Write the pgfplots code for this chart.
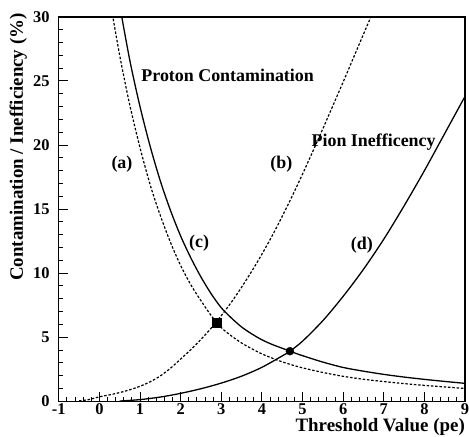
\documentclass[border=0pt]{standalone}
\usepackage{fontspec}
\setmainfont{Liberation Serif}
\usepackage{pgfplots}
\pgfplotsset{compat=1.18}
\begin{document}
\begin{tikzpicture}
\begin{axis}[
  scale only axis, width=408pt, height=386pt,
  xmin=-1, xmax=9, ymin=0, ymax=30,
  xtick={-1,0,...,9}, xticklabels={-1,0,1,2,3,4,5,6,7,8,9},
  ytick={0,5,...,30},
  minor x tick num=4, minor y tick num=4,
  xtick pos=bottom, ytick pos=left,
  tick align=inside,
  major tick length=9pt, minor tick length=4.5pt,
  axis line style={line width=1.5pt},
  every tick/.style={black, line width=1pt},
  /pgf/number format/assume math mode=true,
  tick label style={font=\fontsize{16.5}{19}\selectfont\bfseries},
  xticklabel style={inner sep=0pt, yshift=-2pt},
  yticklabel style={inner sep=0pt, xshift=-9pt},
  xlabel={Threshold Value (pe)},
  ylabel={Contamination / Inefficiency (\%)},
  label style={font=\fontsize{19}{22}\selectfont\bfseries},
  xlabel style={at={(axis description cs:1,0)}, anchor=north east, inner sep=0pt, yshift=-17pt},
  ylabel style={at={(axis description cs:-0.078,1.01)}, anchor=south east, inner sep=0pt},
]
% (c) proton contamination, solid
\addplot[black, line width=1.3pt, smooth] coordinates {(0.5,30.9) (0.75,26.6) (1.0,23.0) (1.25,19.9) (1.5,17.2) (1.75,14.9) (2.0,12.9) (2.25,11.2) (2.5,9.7) (2.75,8.4) (3.0,7.3) (3.25,6.5) (3.5,5.8) (3.75,5.26) (4.0,4.8) (4.25,4.44) (4.5,4.14) (4.75,3.84) (5.0,3.56) (5.5,3.06) (6.0,2.64) (6.5,2.35) (7.0,2.10) (7.5,1.89) (8.0,1.71) (8.5,1.55) (9.0,1.40)};
% (a) proton contamination, dashed
\addplot[black, line width=1.2pt, dash pattern=on 2.5pt off 1.8pt, smooth] coordinates {(0.25,31.5) (0.5,27.0) (0.75,23.1) (1.0,19.8) (1.25,16.9) (1.5,14.5) (1.75,12.4) (2.0,10.6) (2.25,9.1) (2.5,7.85) (2.75,6.7) (3.0,5.75) (3.25,5.1) (3.5,4.55) (3.75,4.1) (4.0,3.7) (4.25,3.37) (4.5,3.08) (4.75,2.83) (5.0,2.61) (5.5,2.25) (6.0,1.95) (6.5,1.72) (7.0,1.54) (7.5,1.38) (8.0,1.24) (8.5,1.12) (9.0,1.0)};
% (b) pion inefficiency, dashed
\addplot[black, line width=1.2pt, dash pattern=on 2.5pt off 1.8pt, smooth] coordinates {(-0.5,0.03) (-0.25,0.14) (0,0.35) (0.25,0.5) (0.5,0.68) (0.75,0.9) (1.0,1.17) (1.25,1.52) (1.5,1.98) (1.75,2.58) (2.0,3.3) (2.25,4.03) (2.5,4.83) (2.75,5.7) (3.0,6.68) (3.25,7.74) (3.5,8.9) (3.75,10.15) (4.0,11.48) (4.25,12.9) (4.5,14.43) (4.75,16.04) (5.0,17.73) (5.25,19.48) (5.5,21.27) (6.0,24.92) (6.5,28.65) (6.75,30.5) (7.0,32.4)};
% (d) pion inefficiency, solid
\addplot[black, line width=1.3pt, smooth] coordinates {(0.5,0.02) (1.0,0.13) (1.5,0.33) (2.0,0.62) (2.5,0.98) (3.0,1.42) (3.5,1.96) (4.0,2.65) (4.5,3.54) (4.69,3.91) (5.0,4.69) (5.5,6.29) (6.0,8.19) (6.5,10.3) (7.0,12.65) (7.5,15.25) (8.0,18.0) (8.5,20.9) (9.0,23.8)};
\addplot[only marks, mark=square*, mark size=4.5pt, black] coordinates {(2.89,6.15)};
\addplot[only marks, mark=*, mark size=4pt, black] coordinates {(4.69,3.91)};
\begin{scope}[every node/.style={inner sep=0pt, font=\fontsize{18}{21}\selectfont\bfseries}]
\node[anchor=west] at (axis cs:1.03,25.4) {Proton Contamination};
\node[anchor=west] at (axis cs:5.22,20.2) {Pion Inefficency};
\node at (axis cs:0.556,18.5) {(a)};
\node at (axis cs:4.48,18.5) {(b)};
\node at (axis cs:2.456,12.35) {(c)};
\node at (axis cs:6.46,12.2) {(d)};
\end{scope}
\end{axis}
\pgfresetboundingbox
\useasboundingbox (-59pt,-35pt) rectangle (412pt,403pt);
\end{tikzpicture}
\end{document}
